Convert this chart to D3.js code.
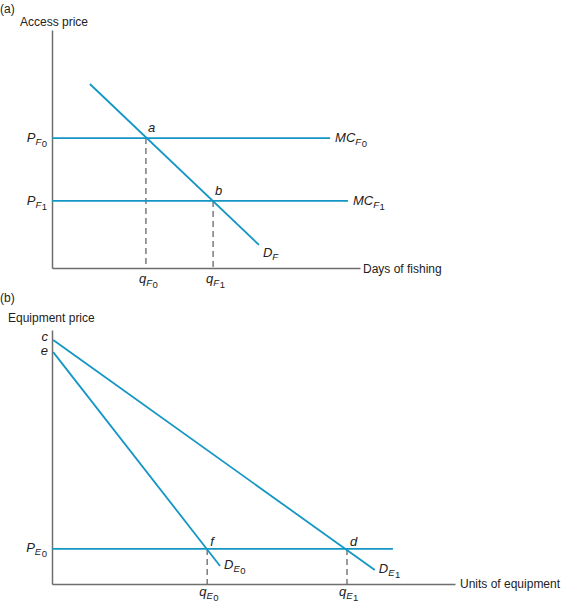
<!DOCTYPE html>
<html><head><meta charset="utf-8">
<script src="https://cdn.jsdelivr.net/npm/d3@7"></script>
<style>body{margin:0;background:#fff}svg{display:block}</style>
</head><body>
<svg id="c" width="562" height="606"></svg>
<script>
// ---- Panel (a) data (abstract units 0..10) ----
const fishPrices = [5.46, 2.82];           // P_F0, P_F1
const fishQuantities = [3.05, 5.23];       // q_F0, q_F1
const fishMCEnds = [9.03, 9.61];           // right ends of MC_F0, MC_F1
const fishDemand = [[1.23, 7.73], [6.72, 0.97]]; // D_F endpoints
const fishPointLabels = ["a", "b"];

// ---- Panel (b) data ----
const equipPrice = 1.38;                    // P_E0
const equipPriceEnd = 8.46;
const equipQuantities = [3.85, 7.32];       // q_E0, q_E1
const demandE0 = [[0.03, 9.13], [4.17, 0.71]];
const demandE1 = [[0.03, 9.61], [8.01, 0.55]];
const equipPointLabels = ["f", "d"];

const BLUE = "#1496c4", AXIS = "#6e6e6e", DASH = "#5a5a5a";
const FONT = "'Liberation Sans', Arial, Helvetica, sans-serif";
const svg = d3.select("#c").style("font-family", FONT);

function subLabel(g, x, y, main, sub, subsub, anchor) {
  const t = g.append("text").attr("x", x).attr("y", y).attr("text-anchor", anchor || "start")
    .attr("fill", "#222");
  t.append("tspan").text(main).attr("font-size", 13).attr("font-style", "italic");
  if (sub) t.append("tspan").text(sub).attr("font-size", 9.5).attr("font-style", "italic").attr("dy", 3);
  if (subsub) t.append("tspan").text(subsub).attr("font-size", 9.5).attr("dx", 0.5).attr("dy", 2);
  return t;
}
function plain(g, x, y, txt, anchor) {
  return g.append("text").attr("x", x).attr("y", y).attr("font-size", 12).attr("fill", "#222")
    .attr("text-anchor", anchor || "start").text(txt);
}
function ital(g, x, y, txt, anchor) {
  return g.append("text").attr("x", x).attr("y", y).attr("font-size", 13).attr("font-style", "italic")
    .attr("fill", "#222").attr("text-anchor", anchor || "start").text(txt);
}

// ---------------- Panel (a) ----------------
const xa = d3.scaleLinear().domain([0, 10]).range([52, 360]);
const ya = d3.scaleLinear().domain([0, 10]).range([268, 30]);
const ga = svg.append("g");
plain(ga, 0, 13, "(a)");
plain(ga, 20, 26, "Access price");

ga.append("g").attr("transform", `translate(${xa(0)},0)`)
  .call(d3.axisLeft(ya).ticks(0).tickSize(0)).call(s => s.select(".domain").attr("stroke", AXIS).attr("stroke-width", 1.5));
ga.append("g").attr("transform", `translate(0,${ya(0)})`)
  .call(d3.axisBottom(xa).ticks(0).tickSize(0)).call(s => s.select(".domain").attr("stroke", AXIS).attr("stroke-width", 1.5));
plain(ga, xa(10) + 3, ya(0) + 5, "Days of fishing");

fishQuantities.forEach((q, i) => {
  ga.append("line").attr("x1", xa(q)).attr("x2", xa(q)).attr("y1", ya(fishPrices[i])).attr("y2", ya(0))
    .attr("stroke", DASH).attr("stroke-width", 1.2).attr("stroke-dasharray", "6,4");
});
fishPrices.forEach((p, i) => {
  ga.append("line").attr("x1", xa(0)).attr("x2", xa(fishMCEnds[i])).attr("y1", ya(p)).attr("y2", ya(p))
    .attr("stroke", BLUE).attr("stroke-width", 1.8);
  subLabel(ga, 47, ya(p) + 4, "P", "F", String(i), "end");
  subLabel(ga, xa(fishMCEnds[i]) + 5, ya(p) + 4, "MC", "F", String(i));
  subLabel(ga, xa(fishQuantities[i]) - 7, ya(0) + 15, "q", "F", String(i));
  ital(ga, xa(fishQuantities[i]) + 2, ya(p) - 6, fishPointLabels[i]);
});
const lineA = d3.line().x(d => xa(d[0])).y(d => ya(d[1]));
ga.append("path").attr("d", lineA(fishDemand)).attr("fill", "none").attr("stroke", BLUE).attr("stroke-width", 1.8);
subLabel(ga, xa(fishDemand[1][0]) + 4, ya(fishDemand[1][1]) + 12, "D", "F", null);

// ---------------- Panel (b) ----------------
const xb = d3.scaleLinear().domain([0, 10]).range([52, 455]);
const yb = d3.scaleLinear().domain([0, 10]).range([584, 330]);
const gb = svg.append("g");
plain(gb, 0, 302, "(b)");
plain(gb, 8, 322, "Equipment price");

gb.append("g").attr("transform", `translate(${xb(0)},0)`)
  .call(d3.axisLeft(yb).ticks(0).tickSize(0)).call(s => s.select(".domain").attr("stroke", AXIS).attr("stroke-width", 1.5));
gb.append("g").attr("transform", `translate(0,${yb(0)})`)
  .call(d3.axisBottom(xb).ticks(0).tickSize(0)).call(s => s.select(".domain").attr("stroke", AXIS).attr("stroke-width", 1.5));
plain(gb, xb(10) + 5, yb(0) + 4, "Units of equipment");

equipQuantities.forEach((q, i) => {
  gb.append("line").attr("x1", xb(q)).attr("x2", xb(q)).attr("y1", yb(equipPrice)).attr("y2", yb(0))
    .attr("stroke", DASH).attr("stroke-width", 1.2).attr("stroke-dasharray", "6,4");
  subLabel(gb, xb(q) - 8, yb(0) + 12, "q", "E", String(i));
  ital(gb, xb(q) + 3, yb(equipPrice) - 3, equipPointLabels[i]);
});
gb.append("line").attr("x1", xb(0)).attr("x2", xb(equipPriceEnd)).attr("y1", yb(equipPrice)).attr("y2", yb(equipPrice))
  .attr("stroke", BLUE).attr("stroke-width", 1.8);
subLabel(gb, 47, yb(equipPrice) + 3, "P", "E", "0", "end");

const lineB = d3.line().x(d => xb(d[0])).y(d => yb(d[1]));
[demandE0, demandE1].forEach((dd, i) => {
  gb.append("path").attr("d", lineB(dd)).attr("fill", "none").attr("stroke", BLUE).attr("stroke-width", 1.8);
  subLabel(gb, xb(dd[1][0]) + 4, yb(dd[1][1]) + 3, "D", "E", String(i));
});
ital(gb, 48, yb(demandE1[0][1]) + 1, "c", "end");
ital(gb, 48, yb(demandE0[0][1]) + 3, "e", "end");
</script>
</body></html>
